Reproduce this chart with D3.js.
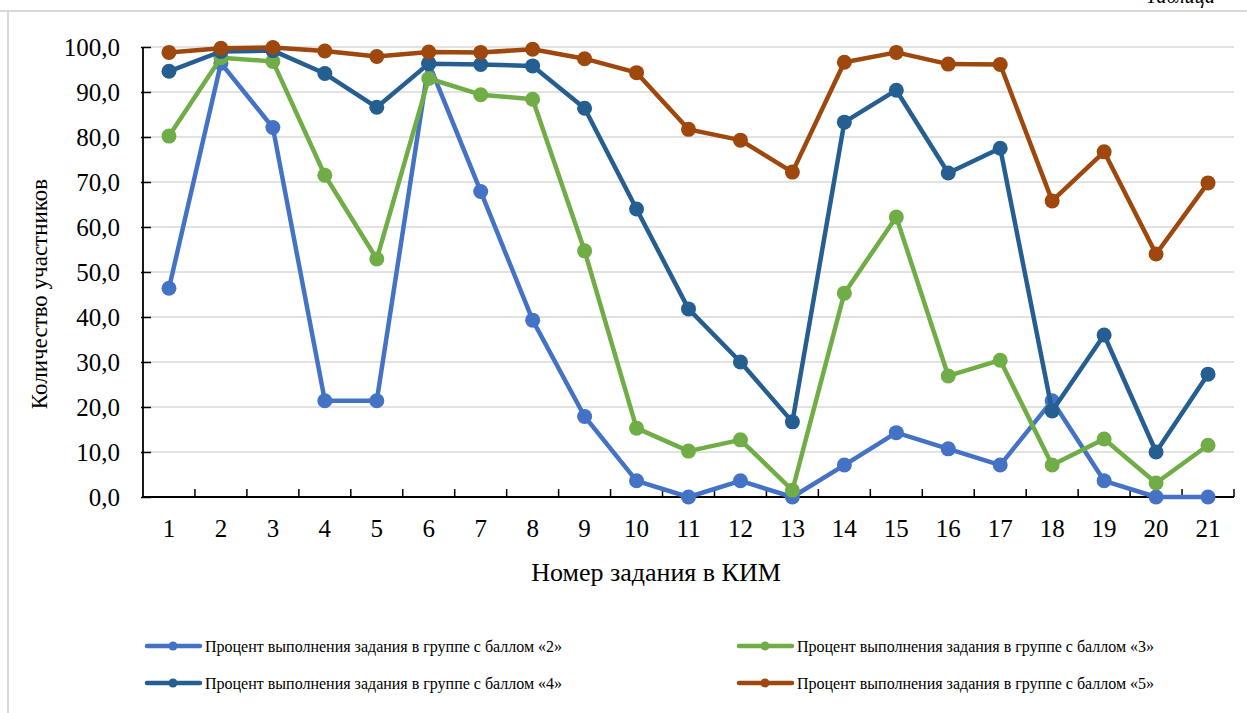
<!DOCTYPE html>
<html>
<head>
<meta charset="utf-8">
<script src="https://cdn.jsdelivr.net/npm/d3@7"></script>
<style>
  body { margin: 0; background: #fff; }
  svg { display: block; font-family: "Liberation Serif", "Times New Roman", serif; }
</style>
</head>
<body>
<div id="chart"></div>
<script>
// Task numbers and completion percentages per score group
const tasks = d3.range(1, 22);
const yTicks = [0, 10, 20, 30, 40, 50, 60, 70, 80, 90, 100];

const group2 = [46.4, 96.4, 82.1, 21.4, 21.4, 96.4, 67.9, 39.3, 17.9, 3.6, 0, 3.6, 0, 7.1, 14.3, 10.7, 7.1, 21.4, 3.6, 0, 0];
const group3 = [80.2, 97.6, 96.8, 71.5, 52.9, 93.0, 89.4, 88.4, 54.7, 15.3, 10.2, 12.7, 1.5, 45.3, 62.2, 26.9, 30.4, 7.1, 12.9, 3.1, 11.5];
const group4 = [94.6, 99.0, 99.2, 94.1, 86.6, 96.3, 96.1, 95.8, 86.4, 64.0, 41.8, 30.0, 16.7, 83.3, 90.4, 72.0, 77.5, 19.1, 36.0, 10.0, 27.3];
const group5 = [98.8, 99.7, 99.9, 99.1, 97.9, 98.9, 98.8, 99.5, 97.4, 94.3, 81.7, 79.3, 72.2, 96.6, 98.8, 96.2, 96.1, 65.8, 76.7, 54.0, 69.8];

const seriesNames = [
  'Процент выполнения задания в группе с баллом «2»',
  'Процент выполнения задания в группе с баллом «3»',
  'Процент выполнения задания в группе с баллом «4»',
  'Процент выполнения задания в группе с баллом «5»'
];
const seriesColors = ['#4472C4', '#70AD47', '#255E91', '#9E480E'];
const seriesValues = [group2, group3, group4, group5];

const width = 1247, height = 713;
const margin = {top: 47, right: 13, bottom: 216, left: 143};
const innerW = width - margin.left - margin.right;
const innerH = height - margin.top - margin.bottom;

const svg = d3.select('#chart').append('svg')
  .attr('width', width)
  .attr('height', height);

// page frame remnants
svg.append('line').attr('x1', 0).attr('x2', width).attr('y1', 11).attr('y2', 11)
  .attr('stroke', '#d9d9d9').attr('stroke-width', 2);
svg.append('line').attr('x1', 8).attr('x2', 8).attr('y1', 11).attr('y2', height)
  .attr('stroke', '#d9d9d9').attr('stroke-width', 2);
svg.append('text')
  .attr('x', 1215).attr('y', 3)
  .attr('text-anchor', 'end')
  .attr('font-size', 20).attr('font-style', 'italic')
  .attr('fill', '#000')
  .text('Таблица');

const g = svg.append('g').attr('transform', `translate(${margin.left},${margin.top})`);

const x = d3.scaleBand().domain(tasks).range([0, innerW]);
const y = d3.scaleLinear().domain([0, 100]).range([innerH, 0]);

// gridlines
g.append('g').selectAll('line')
  .data(yTicks.filter(d => d > 0))
  .join('line')
  .attr('x1', 0).attr('x2', innerW)
  .attr('y1', d => y(d)).attr('y2', d => y(d))
  .attr('stroke', '#d9d9d9').attr('stroke-width', 1.5);

// y axis
const yAxis = g.append('g')
  .call(d3.axisLeft(y).tickValues(yTicks).tickSize(-8).tickFormat(d => d3.format('.1f')(d).replace('.', ',')));
yAxis.select('.domain').attr('stroke', '#000').attr('stroke-width', 1.8).attr('d', `M0,${innerH}V0`);
yAxis.selectAll('.tick line').attr('stroke', '#000').attr('stroke-width', 1.5).attr('x1', -2);
yAxis.selectAll('.tick text')
  .attr('x', -23).attr('dy', '0.35em')
  .attr('font-size', 25).attr('font-family', '"Liberation Serif", serif').attr('fill', '#000');

// x axis
const xAxis = g.append('g').attr('transform', `translate(0,${innerH})`)
  .call(d3.axisBottom(x).tickSize(0));
xAxis.select('.domain').attr('stroke', '#000').attr('stroke-width', 1.8).attr('d', `M0,0H${innerW}`);
xAxis.selectAll('.tick text')
  .attr('y', 40).attr('dy', 0)
  .attr('font-size', 25).attr('font-family', '"Liberation Serif", serif').attr('fill', '#000');
// category boundary ticks
g.append('g').selectAll('line')
  .data(tasks.slice(1).concat(['end']))
  .join('line')
  .attr('x1', d => d === 'end' ? innerW : x(d))
  .attr('x2', d => d === 'end' ? innerW : x(d))
  .attr('y1', innerH).attr('y2', innerH - 8)
  .attr('stroke', '#000').attr('stroke-width', 1.5);

// axis titles
svg.append('text')
  .attr('x', 656).attr('y', 581)
  .attr('text-anchor', 'middle')
  .attr('font-size', 26)
  .text('Номер задания в КИМ');
svg.append('text')
  .attr('transform', `translate(47,294) rotate(-90)`)
  .attr('text-anchor', 'middle')
  .attr('font-size', 23)
  .text('Количество участников');

// series
const line = d3.line()
  .x((d, i) => x(tasks[i]) + x.bandwidth() / 2)
  .y(d => y(d));

seriesValues.forEach((vals, si) => {
  const sg = g.append('g');
  sg.append('path')
    .datum(vals)
    .attr('fill', 'none')
    .attr('stroke', seriesColors[si])
    .attr('stroke-width', 4.5)
    .attr('stroke-linejoin', 'round')
    .attr('d', line);
  sg.selectAll('circle')
    .data(vals)
    .join('circle')
    .attr('cx', (d, i) => x(tasks[i]) + x.bandwidth() / 2)
    .attr('cy', d => y(d))
    .attr('r', 7.5)
    .attr('fill', seriesColors[si]);
});

// legend
const legendPos = [
  {x: 145, y: 646}, {x: 737, y: 646},
  {x: 145, y: 683}, {x: 737, y: 683}
];
seriesNames.forEach((name, i) => {
  const p = legendPos[i];
  const lg = svg.append('g').attr('transform', `translate(${p.x},${p.y})`);
  lg.append('line')
    .attr('x1', 2).attr('x2', 55)
    .attr('stroke', seriesColors[i]).attr('stroke-width', 4.5)
    .attr('stroke-linecap', 'round');
  lg.append('circle').attr('cx', 28).attr('r', 4.5).attr('fill', seriesColors[i]);
  lg.append('text')
    .attr('x', 60).attr('y', 5.5)
    .attr('font-size', 16)
    .attr('fill', '#000')
    .text(name);
});
</script>
</body>
</html>
